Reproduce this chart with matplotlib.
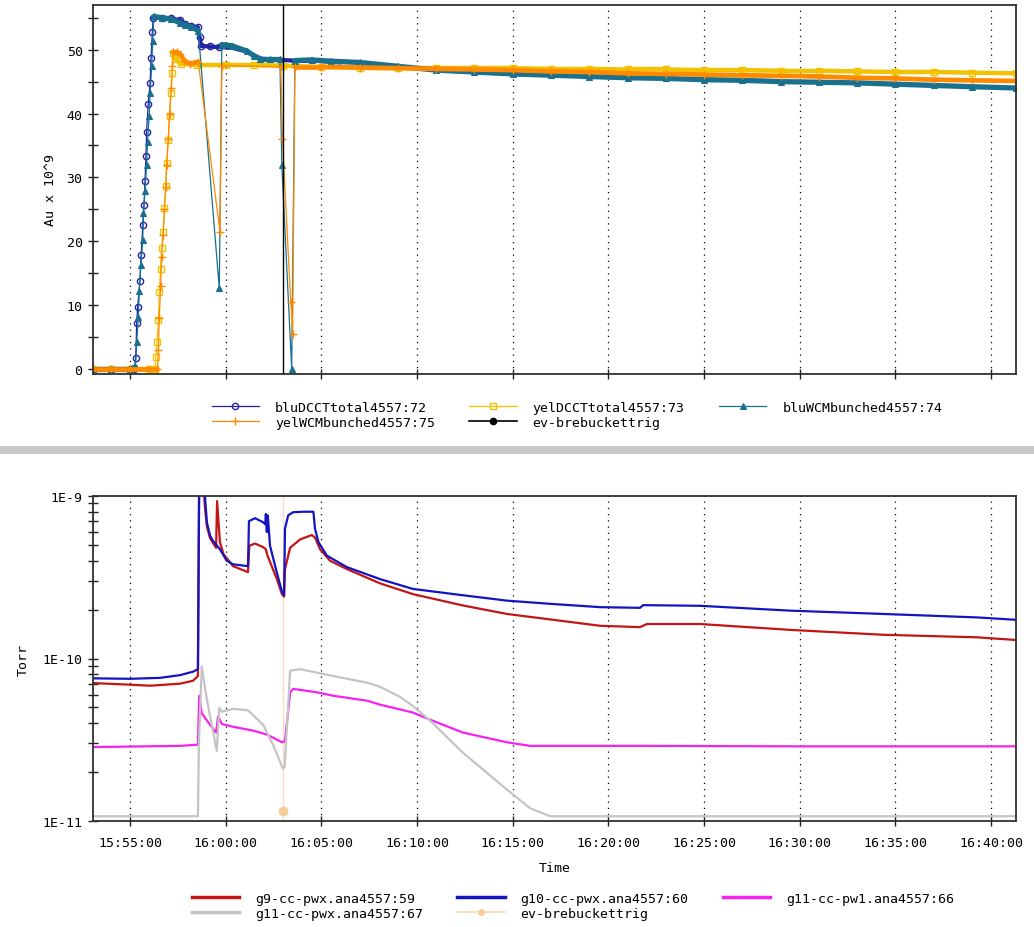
import datetime as dt
import numpy as np
import matplotlib
matplotlib.use("Agg")
import matplotlib.pyplot as plt
import matplotlib.dates as mdates
from matplotlib.collections import LineCollection
from matplotlib.patches import Rectangle
from matplotlib.ticker import MultipleLocator, LogLocator, FuncFormatter, NullFormatter

plt.rcParams['font.family'] = ['DejaVu Sans Mono']
plt.rcParams['font.size'] = 9.5

# ---------------- top panel data (Au x 10^9) ----------------
blu_dcct_t = ["15:53:04", "15:54:00", "15:55:00", "15:55:14", "15:55:18", "15:55:21", "15:55:24", "15:55:31",
              "15:55:35", "15:55:40", "15:55:44", "15:55:47", "15:55:50", "15:55:52", "15:55:57", "15:56:03",
              "15:56:06", "15:56:10", "15:56:13", "15:56:40", "15:57:10", "15:57:37", "15:57:52", "15:58:10",
              "15:58:33", "15:58:38", "15:58:43", "15:59:10", "15:59:40", "16:00:20", "16:01:06", "16:01:48",
              "16:02:20", "16:02:50", "16:03:30", "16:04:30", "16:06:00", "16:09:00", "16:13:00", "16:17:00",
              "16:21:00", "16:25:00", "16:29:00", "16:33:00", "16:37:00", "16:41:18"]
blu_dcct_v = [0.0, 0.0, 0.0, 0.0, 1.7, 7.2, 9.7, 13.7,
              17.8, 22.5, 25.6, 29.4, 33.3, 37.1, 41.5, 44.8,
              48.7, 52.8, 55.0, 55.0, 54.9, 54.6, 54.0, 53.7,
              53.5, 52.0, 50.6, 50.5, 50.4, 50.3, 49.7, 48.6,
              48.5, 48.4, 48.3, 48.3, 48.0, 47.4, 46.4, 45.9,
              45.5, 45.2, 44.9, 44.7, 44.3, 43.9]

yel_dcct_t = ["15:53:04", "15:54:00", "15:55:00", "15:56:00", "15:56:18", "15:56:21", "15:56:24", "15:56:29",
              "15:56:32", "15:56:36", "15:56:39", "15:56:44", "15:56:48", "15:56:52", "15:56:55", "15:57:00",
              "15:57:04", "15:57:09", "15:57:13", "15:57:16", "15:57:22", "15:57:40", "15:58:30", "16:00:00",
              "16:01:30", "16:03:00", "16:05:00", "16:07:00", "16:09:00", "16:11:00", "16:13:00", "16:15:00",
              "16:17:00", "16:19:00", "16:21:00", "16:23:00", "16:25:00", "16:27:00", "16:29:00", "16:31:00",
              "16:33:00", "16:35:00", "16:37:00", "16:39:00", "16:41:18"]
yel_dcct_v = [0.0, 0.0, 0.0, 0.0, 0.0, 1.8, 4.2, 7.6,
              12.1, 15.7, 18.9, 21.5, 25.2, 28.6, 32.2, 35.9,
              39.6, 43.2, 46.4, 49.5, 48.6, 47.8, 47.6, 47.6,
              47.6, 47.5, 47.3, 47.2, 47.2, 47.1, 47.1, 47.1,
              47.0, 47.0, 46.9, 46.9, 46.8, 46.8, 46.7, 46.7,
              46.6, 46.5, 46.5, 46.4, 46.3]

blu_wcm_t = ["15:53:04", "15:54:00", "15:55:00", "15:55:17", "15:55:21", "15:55:26", "15:55:29", "15:55:34",
             "15:55:40", "15:55:42", "15:55:47", "15:55:52", "15:55:55", "15:56:00", "15:56:03", "15:56:08",
             "15:56:11", "15:56:15", "15:56:40", "15:57:10", "15:57:37", "15:57:52", "15:58:10", "15:58:34",
             "15:59:40", "15:59:48", "16:00:20", "16:01:06", "16:01:30", "16:01:48", "16:02:20", "16:02:50",
             "16:02:56", "16:03:27", "16:03:37", "16:04:30", "16:05:30", "16:07:00", "16:09:00", "16:11:00",
             "16:13:00", "16:15:00", "16:17:00", "16:19:00", "16:21:00", "16:23:00", "16:25:00", "16:27:00",
             "16:29:00", "16:31:00", "16:33:00", "16:35:00", "16:37:00", "16:39:00", "16:41:18"]
blu_wcm_v = [0.0, 0.0, 0.0, 0.3, 4.2, 8.1, 12.2, 16.2,
             20.2, 24.4, 27.8, 32.0, 35.6, 39.6, 43.2, 47.4,
             51.4, 55.2, 55.0, 54.8, 54.2, 53.8, 53.6, 53.0,
             12.6, 50.8, 50.6, 49.8, 49.0, 48.6, 48.6, 48.6,
             31.9, 0.0, 48.3, 48.4, 48.2, 48.0, 47.4, 46.8,
             46.5, 46.2, 46.0, 45.8, 45.6, 45.5, 45.3, 45.2,
             45.0, 44.9, 44.8, 44.6, 44.4, 44.2, 44.0]

yel_wcm_t = ["15:53:04", "15:54:00", "15:55:00", "15:56:00", "15:56:26", "15:56:29", "15:56:32", "15:56:36",
             "15:56:39", "15:56:44", "15:56:48", "15:56:52", "15:56:55", "15:57:00", "15:57:04", "15:57:09",
             "15:57:13", "15:57:16", "15:57:26", "15:57:37", "15:57:50", "15:58:08", "15:58:34", "15:59:42",
             "15:59:48", "16:02:53", "16:02:58", "16:03:24", "16:03:30", "16:03:37", "16:05:00", "16:07:00",
             "16:09:00", "16:11:00", "16:13:00", "16:15:00", "16:17:00", "16:19:00", "16:21:00", "16:23:00",
             "16:25:00", "16:27:00", "16:29:00", "16:31:00", "16:33:00", "16:35:00", "16:37:00", "16:39:00",
             "16:41:18"]
yel_wcm_v = [0.0, 0.0, 0.0, 0.0, 0.0, 3.0, 8.0, 13.0,
             17.5, 21.0, 25.0, 28.5, 32.0, 36.0, 40.0, 44.0,
             47.5, 49.6, 49.6, 49.3, 48.3, 47.8, 48.1, 21.5,
             47.5, 47.3, 36.0, 10.5, 5.5, 47.3, 47.3, 47.2,
             47.1, 47.0, 46.9, 46.8, 46.6, 46.5, 46.3, 46.2,
             46.1, 46.0, 45.9, 45.8, 45.6, 45.5, 45.3, 45.2,
             45.1]

event_t = "16:03:00"

# ---------------- bottom panel data (Torr) ----------------
g9_t = ["15:53:04", "15:55:00", "15:56:03", "15:57:37", "15:58:18", "15:58:33", "15:58:37", "15:58:50",
        "15:58:55", "15:59:01", "15:59:11", "15:59:30", "15:59:33", "15:59:42", "15:59:53", "16:00:23",
        "16:01:10", "16:01:14", "16:01:32", "16:01:57", "16:02:06", "16:02:11", "16:02:40", "16:02:56",
        "16:03:03", "16:03:06", "16:03:22", "16:03:53", "16:04:30", "16:04:40", "16:04:56", "16:05:27",
        "16:06:20", "16:08:04", "16:09:47", "16:12:24", "16:14:42", "16:16:57", "16:19:34", "16:21:39",
        "16:22:01", "16:24:48", "16:29:30", "16:34:21", "16:39:16", "16:41:18"]
g9_v = [7.06e-11, 6.9e-11, 6.8e-11, 7.0e-11, 7.3e-11, 7.8e-11, 1.2e-9, 1.2e-9,
        8.5e-10, 6.5e-10, 5.5e-10, 4.8e-10, 9.3e-10, 5.2e-10, 4.4e-10, 3.7e-10,
        3.4e-10, 4.94e-10, 5.1e-10, 4.85e-10, 4.7e-10, 4.3e-10, 3.1e-10, 2.5e-10,
        2.4e-10, 3.55e-10, 4.8e-10, 5.4e-10, 5.75e-10, 5.55e-10, 4.7e-10, 4.0e-10,
        3.55e-10, 2.9e-10, 2.49e-10, 2.12e-10, 1.88e-10, 1.74e-10, 1.59e-10, 1.56e-10,
        1.63e-10, 1.63e-10, 1.5e-10, 1.4e-10, 1.35e-10, 1.3e-10]

g10_t = ["15:53:04", "15:55:00", "15:56:34", "15:57:37", "15:58:18", "15:58:33", "15:58:37", "15:58:50",
         "15:58:55", "15:59:01", "15:59:11", "15:59:20", "15:59:42", "16:00:03", "16:00:23", "16:01:10",
         "16:01:13", "16:01:32", "16:01:57", "16:02:04", "16:02:06", "16:02:09", "16:02:12", "16:02:19",
         "16:02:40", "16:02:56", "16:03:03", "16:03:06", "16:03:16", "16:03:32", "16:04:03", "16:04:35",
         "16:04:40", "16:04:51", "16:05:17", "16:06:20", "16:08:04", "16:09:47", "16:12:24", "16:14:42",
         "16:16:57", "16:19:34", "16:21:39", "16:21:49", "16:24:48", "16:29:30", "16:34:21", "16:39:16",
         "16:41:18"]
g10_v = [7.55e-11, 7.5e-11, 7.6e-11, 7.9e-11, 8.3e-11, 8.6e-11, 1.5e-9, 1.5e-9,
         1.0e-9, 6.9e-10, 5.7e-10, 5.3e-10, 4.7e-10, 4.0e-10, 3.8e-10, 3.7e-10,
         7.0e-10, 7.3e-10, 6.9e-10, 6.7e-10, 7.75e-10, 6.0e-10, 7.6e-10, 4.94e-10,
         3.4e-10, 2.6e-10, 2.45e-10, 6.3e-10, 7.6e-10, 7.95e-10, 8.0e-10, 8.0e-10,
         6.3e-10, 5.2e-10, 4.3e-10, 3.65e-10, 3.08e-10, 2.68e-10, 2.45e-10, 2.27e-10,
         2.17e-10, 2.07e-10, 2.05e-10, 2.13e-10, 2.11e-10, 1.97e-10, 1.88e-10, 1.79e-10,
         1.73e-10]

g11_pw1_t = ["15:53:04", "15:57:37", "15:58:33", "15:58:37", "15:58:45", "15:59:20", "15:59:30", "15:59:36",
             "15:59:48", "16:00:23", "16:01:26", "16:02:10", "16:02:57", "16:03:06", "16:03:22", "16:03:32",
             "16:04:45", "16:05:37", "16:07:23", "16:08:04", "16:09:47", "16:10:41", "16:12:24", "16:14:42",
             "16:15:54", "16:22:00", "16:30:00", "16:41:18"]
g11_pw1_v = [2.85e-11, 2.9e-11, 2.95e-11, 5.9e-11, 4.6e-11, 3.7e-11, 3.5e-11, 4.4e-11,
             3.95e-11, 3.8e-11, 3.6e-11, 3.4e-11, 3.05e-11, 3.1e-11, 6.2e-11, 6.5e-11,
             6.2e-11, 5.9e-11, 5.5e-11, 5.2e-11, 4.65e-11, 4.2e-11, 3.5e-11, 3.05e-11,
             2.9e-11, 2.9e-11, 2.88e-11, 2.88e-11]

g11_pwx_t = ["15:53:04", "15:58:33", "15:58:36", "15:58:45", "15:59:01", "15:59:32", "15:59:40", "15:59:48",
             "16:00:23", "16:01:10", "16:01:58", "16:02:30", "16:02:59", "16:03:05", "16:03:22", "16:03:53",
             "16:05:37", "16:07:23", "16:08:04", "16:09:07", "16:09:47", "16:10:41", "16:12:24", "16:14:42",
             "16:15:54", "16:16:57", "16:41:18"]
g11_pwx_v = [1.07e-11, 1.07e-11, 3.0e-11, 8.9e-11, 5.6e-11, 2.7e-11, 5.0e-11, 4.7e-11,
             4.9e-11, 4.8e-11, 3.9e-11, 2.9e-11, 2.1e-11, 2.15e-11, 8.4e-11, 8.6e-11,
             7.8e-11, 7.1e-11, 6.7e-11, 5.8e-11, 5.1e-11, 4.15e-11, 2.63e-11, 1.56e-11,
             1.2e-11, 1.07e-11, 1.07e-11]

ev_bottom_v = 1.15e-11

x_start, x_end = "15:53:04", "16:41:18"


def tconv(lst):
    base = dt.date(2014, 1, 1)
    out = []
    for s in lst:
        h, m, sec = (int(p) for p in s.split(":"))
        out.append(dt.datetime.combine(base, dt.time(h, m, sec)))
    return out


def band(ax, times, vals, color, lw, z, maxgap=150, maxdv=1.5):
    tn = mdates.date2num(times)
    segs = []
    for i in range(len(tn) - 1):
        if abs(vals[i + 1] - vals[i]) < maxdv and (tn[i + 1] - tn[i]) * 86400 <= maxgap:
            segs.append([(tn[i], vals[i]), (tn[i + 1], vals[i + 1])])
    lc = LineCollection(segs, colors=color, linewidths=lw, zorder=z, capstyle='round')
    ax.add_collection(lc)


fig = plt.figure(figsize=(10.34, 9.28), dpi=100)
W, H = 1034, 928
ax1 = fig.add_axes([93 / W, 1 - 375 / H, 923 / W, 369 / H])
ax2 = fig.add_axes([93 / W, 1 - 822 / H, 923 / W, 325 / H])

fig.patches.append(Rectangle((0, 1 - 455 / H), 1, 8 / H, transform=fig.transFigure,
                             facecolor='#c8c8c8', edgecolor='none'))

C_BLU = '#2323a6'
C_YEL = '#f2c200'
C_TEAL = '#19708f'
C_ORG = '#ff8a00'

# ---- top panel ----
series = [
    (blu_dcct_t, blu_dcct_v, C_BLU, dict(marker='o', mfc='none', mec=C_BLU, ms=4.5, mew=1.0,
                                         markevery=slice(0, 29)), 'bluDCCTtotal4557:72', 3.0),
    (yel_dcct_t, yel_dcct_v, C_YEL, dict(marker='s', mfc='none', mec=C_YEL, ms=4.5, mew=1.0),
     'yelDCCTtotal4557:73', 3.2),
    (blu_wcm_t, blu_wcm_v, C_TEAL, dict(marker='^', mfc=C_TEAL, mec=C_TEAL, ms=4.5, mew=0.8),
     'bluWCMbunched4557:74', 3.8),
    (yel_wcm_t, yel_wcm_v, C_ORG, dict(marker='+', mec=C_ORG, ms=6, mew=1.0),
     'yelWCMbunched4557:75', 3.4),
]
handles = {}
for k, (tt, vv, col, mk, lab, blw) in enumerate(series):
    times = tconv(tt)
    z = 2 + 0.1 * k
    band(ax1, times, vv, col, blw, z)
    h, = ax1.plot(times, vv, color=col, lw=0.9, zorder=z + 0.05, label=lab, **mk)
    handles[lab] = h

ev_time = tconv([event_t])[0]
ax1.axvline(ev_time, color='black', lw=1.0, zorder=3)
h_ev, = ax1.plot([], [], color='black', lw=1.2, marker='o', ms=4.5, label='ev-brebuckettrig')

xs, xe = tconv([x_start, x_end])
ax1.set_xlim(xs, xe)
ax1.set_ylim(-0.8, 57.0)
ax1.yaxis.set_major_locator(MultipleLocator(10))
ax1.yaxis.set_minor_locator(MultipleLocator(5))
ax1.set_ylabel('Au x 10^9', labelpad=7)

# ---- bottom panel ----
bot = [
    (g9_t, g9_v, '#c41515', 'g9-cc-pwx.ana4557:59'),
    (g10_t, g10_v, '#1414c2', 'g10-cc-pwx.ana4557:60'),
    (g11_pw1_t, g11_pw1_v, '#f522f0', 'g11-cc-pw1.ana4557:66'),
    (g11_pwx_t, g11_pwx_v, '#c4c4c4', 'g11-cc-pwx.ana4557:67'),
]
bh = {}
for tt, vv, col, lab in bot:
    h, = ax2.plot(tconv(tt), vv, color=col, lw=1.6, label=lab)
    bh[lab] = h
ax2.axvline(ev_time, color='#f6dcc4', lw=1.0, zorder=1)
ax2.plot([ev_time], [ev_bottom_v], marker='o', ms=6, color='#f8cc98', ls='none', zorder=3)
h_ev2, = ax2.plot([], [], color='#f8d8b8', lw=1.2, marker='o', ms=4, mfc='#f8cc98', mec='#f8cc98',
                  label='ev-brebuckettrig')

ax2.set_yscale('log')
ax2.set_ylim(1e-11, 1e-9)
ax2.set_xlim(xs, xe)
ax2.yaxis.set_major_locator(LogLocator(base=10, numticks=5))
ax2.yaxis.set_minor_locator(LogLocator(base=10, subs=np.arange(2, 10), numticks=20))
ax2.yaxis.set_major_formatter(FuncFormatter(lambda v, p: "1E%d" % int(round(np.log10(v)))))
ax2.yaxis.set_minor_formatter(NullFormatter())
ax2.set_ylabel('Torr', labelpad=9)
ax2.set_xlabel('Time', labelpad=9)

for ax in (ax1, ax2):
    ax.xaxis.set_major_locator(mdates.MinuteLocator(byminute=range(0, 60, 5)))
    ax.xaxis.set_major_formatter(mdates.DateFormatter('%H:%M:%S'))
    ax.grid(axis='x', which='major', color='black', linestyle=(0, (1, 4)), linewidth=0.9)
    ax.tick_params(which='both', direction='inout', length=7, width=1.0, color='#202020', pad=4)
    ax.tick_params(axis='x', pad=7)
    ax.tick_params(axis='x', which='minor', length=0)
    for s in ax.spines.values():
        s.set_color('#303030')
        s.set_linewidth(1.3)
    ax.set_facecolor('white')
ax1.tick_params(axis='x', labelbottom=False)

leg_kw = dict(frameon=False, ncol=3, handlelength=3.6, handletextpad=1.2, columnspacing=2.6,
              labelspacing=0.15, borderpad=0, numpoints=1, fontsize=9.5)
fig.legend([handles['bluDCCTtotal4557:72'], handles['yelWCMbunched4557:75'],
            handles['yelDCCTtotal4557:73'], h_ev, handles['bluWCMbunched4557:74']],
           ['bluDCCTtotal4557:72', 'yelWCMbunched4557:75', 'yelDCCTtotal4557:73',
            'ev-brebuckettrig', 'bluWCMbunched4557:74'],
           loc='center', bbox_to_anchor=(577 / W, 1 - 416 / H), **leg_kw)

leg2_handles = [bh['g9-cc-pwx.ana4557:59'], bh['g11-cc-pwx.ana4557:67'],
                bh['g10-cc-pwx.ana4557:60'], h_ev2, bh['g11-cc-pw1.ana4557:66']]
leg2 = fig.legend(leg2_handles,
                  ['g9-cc-pwx.ana4557:59', 'g11-cc-pwx.ana4557:67', 'g10-cc-pwx.ana4557:60',
                   'ev-brebuckettrig', 'g11-cc-pw1.ana4557:66'],
                  loc='center', bbox_to_anchor=(573 / W, 1 - 907 / H), **leg_kw)
for ln in leg2.get_lines():
    if ln.get_label() != 'ev-brebuckettrig':
        ln.set_linewidth(2.5)

fig.savefig('out.png', dpi=100, facecolor='white')
